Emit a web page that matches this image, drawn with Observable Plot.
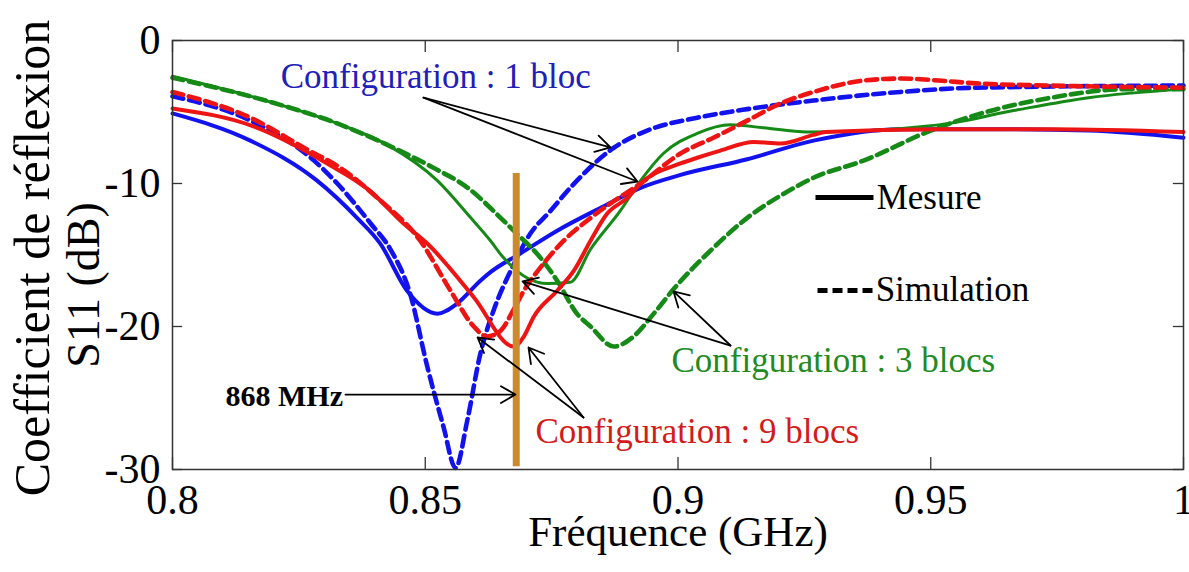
<!DOCTYPE html>
<html>
<head>
<meta charset="utf-8">
<script src="https://cdn.jsdelivr.net/npm/d3@7"></script>
<script src="https://cdn.jsdelivr.net/npm/@observablehq/plot@0.6"></script>
<style>
  html, body { margin: 0; padding: 0; background: #fff; }
  #chart { width: 1189px; height: 572px; }
</style>
</head>
<body>
<div id="chart"></div>
<script>
// ---------- data (frequency in GHz, S11 in dB) ----------
const freqMes1 = [0.800, 0.8154, 0.8286, 0.8365, 0.8411, 0.8464, 0.8524, 0.8563, 0.8609, 0.8629, 0.8688, 0.8761, 0.8847, 0.8926, 0.9005, 0.9137, 0.9268, 0.9441, 0.959, 0.9812, 1.0];
const s11Mes1  = [-5.1, -7.0, -9.8, -12.4, -14.2, -17.5, -19.1, -18.4, -16.8, -16.2, -14.9, -13.3, -11.7, -10.3, -9.4, -8.3, -7.0, -6.2, -6.2, -6.3, -6.8];

const freqSim1 = [0.800, 0.816, 0.828, 0.8326, 0.8392, 0.8431, 0.847, 0.8504, 0.8536, 0.856, 0.8583, 0.8609, 0.8635, 0.8669, 0.8708, 0.8748, 0.8787, 0.8873, 0.8939, 0.9038, 0.9137, 0.9268, 0.944, 0.959, 1.0];
const s11Sim1  = [-3.9, -5.7, -8.4, -10.0, -12.8, -14.6, -17.7, -22.8, -27.0, -29.9, -26.6, -21.9, -18.9, -16.1, -13.5, -11.9, -10.3, -7.5, -6.3, -5.4, -4.8, -4.2, -3.6, -3.3, -3.15];

const freqMes3 = [0.800, 0.8194, 0.8326, 0.8425, 0.8524, 0.859, 0.8629, 0.8655, 0.8741, 0.8787, 0.8827, 0.8886, 0.8926, 0.8971, 0.9038, 0.9104, 0.9169, 0.9255, 0.9516, 0.9664, 0.9812, 1.0];
const s11Mes3  = [-2.5, -4.3, -5.8, -7.3, -9.8, -12.4, -14.0, -15.2, -17.0, -16.9, -14.6, -11.9, -9.8, -7.9, -6.5, -5.9, -6.1, -6.4, -5.9, -4.9, -4.0, -3.4];

const freqSim3 = [0.800, 0.8194, 0.8326, 0.8425, 0.8516, 0.8584, 0.8649, 0.8675, 0.8728, 0.8761, 0.88, 0.8827, 0.8873, 0.8912, 0.8952, 0.8991, 0.907, 0.9137, 0.9210, 0.9268, 0.9367, 0.95, 0.959, 0.9738, 0.9887, 1.0];
const s11Sim3  = [-2.6, -4.3, -5.8, -7.3, -8.9, -10.3, -12.4, -13.3, -15.2, -16.8, -19.1, -20.0, -21.4, -20.7, -19.1, -17.4, -14.5, -12.4, -10.7, -9.6, -8.4, -6.3, -5.2, -4.0, -3.4, -3.4];

const freqMes9 = [0.800, 0.816, 0.8306, 0.839, 0.8457, 0.8504, 0.8596, 0.8675, 0.8695, 0.8715, 0.8761, 0.8794, 0.8827, 0.886, 0.89, 0.8926, 0.9005, 0.9038, 0.9084, 0.915, 0.9203, 0.9268, 0.9292, 0.9516, 0.974, 1.0];
const s11Mes9  = [-4.75, -6.0, -8.6, -10.5, -12.8, -14.2, -17.95, -21.4, -20.7, -19.3, -17.5, -16.1, -14.0, -12.1, -11.0, -10.0, -8.6, -8.2, -7.7, -7.1, -7.2, -6.6, -6.4, -6.2, -6.2, -6.4];

const freqSim9 = [0.800, 0.816, 0.826, 0.834, 0.8405, 0.849, 0.855, 0.8596, 0.8622, 0.8649, 0.8675, 0.8695, 0.8734, 0.8774, 0.882, 0.8866, 0.8926, 0.9005, 0.907, 0.9137, 0.9203, 0.9268, 0.9367, 0.9441, 0.9516, 0.959, 0.9738, 1.0];
const s11Sim9  = [-3.6, -5.5, -7.5, -9.1, -11.0, -14.0, -17.5, -20.0, -20.7, -20.3, -18.8, -17.5, -15.6, -14.0, -12.6, -11.4, -10.0, -7.9, -6.8, -5.6, -4.4, -3.6, -2.8, -2.66, -2.8, -3.0, -3.15, -3.3];

const markerFreq = 0.868;          // 868 MHz
const markerRange = [-9.3, -29.8];

const xTicks = [0.8, 0.85, 0.9, 0.95, 1];
const xTickLabels = ["0.8", "0.85", "0.9", "0.95", "1"];
const yTicks = [0, -10, -20, -30];
const yTickLabels = ["0", "-10", "-20", "-30"];

const xLabel = "Fréquence (GHz)";
const yLabel1 = "Coefficient de réflexion";
const yLabel2 = "S11 (dB)";

const annoTexts = ["Configuration : 1 bloc", "Configuration : 3 blocs", "Configuration : 9 blocs"];
const markerText = "868 MHz";
const legendTexts = ["Mesure", "Simulation"];

// ---------- build tables ----------
const zip = (fs, vs) => fs.map((f, i) => ({f, db: vs[i]}));
const BLUE = "#1212ee", RED = "#ee1414", GREEN = "#168a16";
const FONT = "'Liberation Serif', 'Times New Roman', serif";

const series = [
  {rows: zip(freqMes1, s11Mes1), color: BLUE,  dash: null, w: 4},
  {rows: zip(freqSim1, s11Sim1), color: BLUE,  dash: "11,6", w: 4.6},
  {rows: zip(freqSim3, s11Sim3), color: GREEN, dash: "11,6", w: 4.6},
  {rows: zip(freqMes3, s11Mes3), color: GREEN, dash: null, w: 3},
  {rows: zip(freqSim9, s11Sim9), color: RED,   dash: "11,6", w: 4.6},
  {rows: zip(freqMes9, s11Mes9), color: RED,   dash: null, w: 4}
];

const annos = [
  {text: annoTexts[0], x: 0.8214, y: -2.57, color: "#2020b8"},
  {text: annoTexts[1], x: 0.8987, y: -22.43, color: "#228a22"},
  {text: annoTexts[2], x: 0.8718, y: -27.33, color: "#d41a1a"}
];
const arrows = [
  {x1: 0.84965, y1: -3.99, x2: 0.88665, y2: -7.48},
  {x1: 0.84965, y1: -3.99, x2: 0.89199, y2: -9.86},
  {x1: 0.91039, y1: -21.33, x2: 0.89911, y2: -17.55},
  {x1: 0.91039, y1: -21.33, x2: 0.86924, y2: -16.85},
  {x1: 0.88131, y1: -26.36, x2: 0.86034, y2: -20.77},
  {x1: 0.88131, y1: -26.36, x2: 0.87043, y2: -21.47},
  {x1: 0.83422, y1: -24.76, x2: 0.86785, y2: -24.76}
];

const lineMarks = series.map(s => Plot.line(s.rows, {
  x: "f", y: "db", stroke: s.color, strokeWidth: s.w,
  strokeDasharray: s.dash || undefined, curve: "monotone-x"
}));

const chart = Plot.plot({
  width: 1189,
  height: 572,
  marginLeft: 172,
  marginRight: 6,
  marginTop: 40,
  marginBottom: 103,
  x: {domain: [0.8, 1]},
  y: {domain: [-30, 0]},
  style: {fontFamily: FONT, background: "white", color: "black"},
  marks: [
    ...lineMarks,
    Plot.ruleX([markerFreq], {y1: markerRange[0], y2: markerRange[1], stroke: "#cc8a2c", strokeWidth: 7}),
    Plot.frame({stroke: "#333", strokeWidth: 1.5}),
    // inward ticks
    Plot.ruleX(xTicks, {y1: -30, y2: -29.16, stroke: "#333", strokeWidth: 1.3}),
    Plot.ruleX(xTicks, {y1: 0, y2: -0.84, stroke: "#333", strokeWidth: 1.3}),
    Plot.ruleY(yTicks, {x1: 0.8, x2: 0.802, stroke: "#333", strokeWidth: 1.3}),
    Plot.ruleY(yTicks, {x1: 1, x2: 0.998, stroke: "#333", strokeWidth: 1.3}),
    Plot.axisX({ticks: xTicks, tickFormat: d => xTickLabels[xTicks.indexOf(d)], tickSize: 0, tickPadding: 15, fontSize: 42, label: null, fontFamily: FONT}),
    Plot.axisY({ticks: yTicks, tickFormat: d => yTickLabels[yTicks.indexOf(d)], tickSize: 0, tickPadding: 12, fontSize: 42, label: null, fontFamily: FONT}),
    Plot.text([xLabel], {frameAnchor: "bottom", dy: 76, textAnchor: "middle", fontSize: 43, fontFamily: FONT, fill: "black"}),
    Plot.text([yLabel1], {frameAnchor: "left", textAnchor: "middle", dx: -140, dy: 3, rotate: -90, fontSize: 50, fontFamily: FONT, fill: "black"}),
    Plot.text([yLabel2], {frameAnchor: "left", textAnchor: "middle", dx: -88, dy: 30, rotate: -90, fontSize: 46, fontFamily: FONT, fill: "black"}),
    // arrows
    Plot.arrow(arrows, {x1: "x1", y1: "y1", x2: "x2", y2: "y2", stroke: "black", strokeWidth: 1.8, headLength: 14}),
    // annotations
    Plot.text(annos, {x: "x", y: "y", text: "text", fill: "color", textAnchor: "start", fontSize: 35, fontFamily: FONT}),
    Plot.text([markerText], {x: 0.81048, y: -24.92, textAnchor: "start", fontSize: 30, fontWeight: "bold", fontFamily: FONT, fill: "black"}),
    // legend
    Plot.link([0], {x1: 0.9272, x2: 0.93867, y1: -10.98, y2: -10.98, stroke: "black", strokeWidth: 5}),
    Plot.link([0], {x1: 0.9276, x2: 0.93867, y1: -17.48, y2: -17.48, stroke: "black", strokeWidth: 5, strokeDasharray: "10,5"}),
    Plot.text([legendTexts[0]], {x: 0.9393, y: -10.97, textAnchor: "start", fontSize: 35, fontFamily: FONT, fill: "black"}),
    Plot.text([legendTexts[1]], {x: 0.9391, y: -17.4, textAnchor: "start", fontSize: 35, fontFamily: FONT, fill: "black"})
  ]
});
document.getElementById("chart").appendChild(chart);
</script>
</body>
</html>
